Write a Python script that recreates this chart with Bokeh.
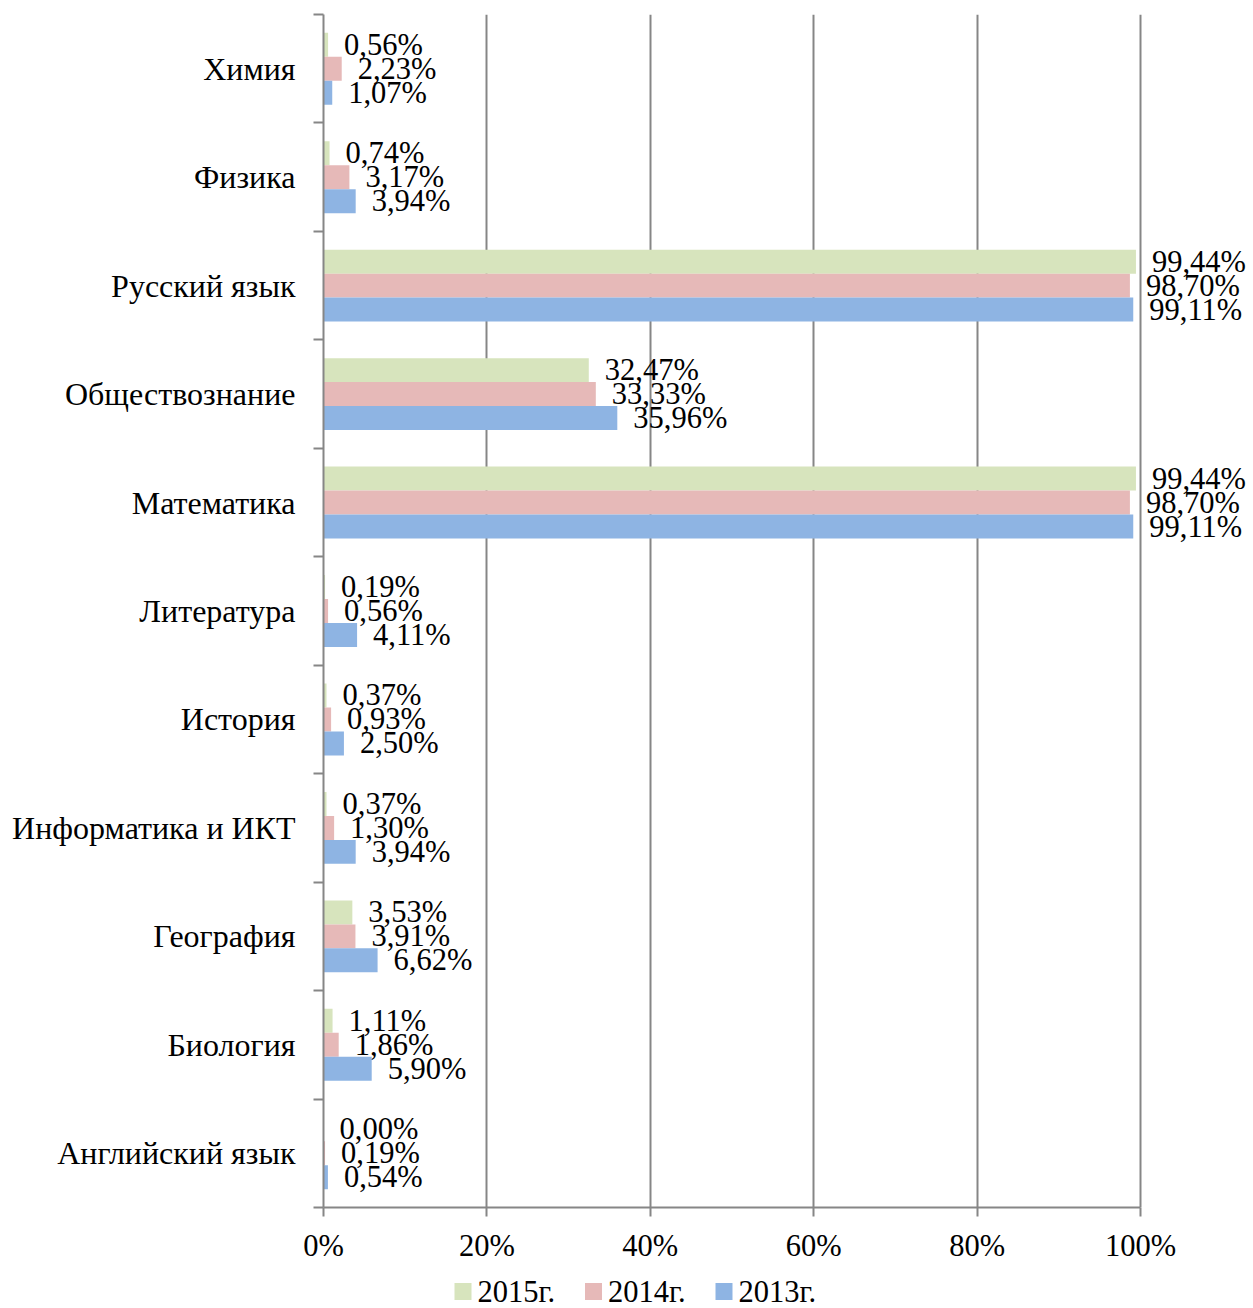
from bokeh.plotting import figure
from bokeh.layouts import column
from bokeh.models import FixedTicker, Range1d, ColumnDataSource
from bokeh.core.properties import value
from bokeh.embed import file_html
from bokeh.resources import INLINE

categories = ["Химия", "Физика", "Русский язык", "Обществознание", "Математика",
              "Литература", "История", "Информатика и ИКТ", "География", "Биология",
              "Английский язык"]
series_names = ["2015г.", "2014г.", "2013г."]
v2015 = [0.56, 0.74, 99.44, 32.47, 99.44, 0.19, 0.37, 0.37, 3.53, 1.11, 0.00]
v2014 = [2.23, 3.17, 98.70, 33.33, 98.70, 0.56, 0.93, 1.30, 3.91, 1.86, 0.19]
v2013 = [1.07, 3.94, 99.11, 35.96, 99.11, 4.11, 2.50, 3.94, 6.62, 5.90, 0.54]
x_ticks = [0, 20, 40, 60, 80, 100]
x_tick_labels = ["0%", "20%", "40%", "60%", "80%", "100%"]

colors = ["#D7E4BD", "#E6B9B8", "#8EB4E3"]
FONT = "Liberation Serif"
GRAY = "#868686"

n = len(categories)
centers = [n - i for i in range(n)]  # top category at n
bar_h = 0.221
offsets = [bar_h, 0.0, -bar_h]

W = 1250
LEFT = 323
p = figure(width=W, height=1267, output_backend="svg", toolbar_location=None,
           x_range=Range1d(0, 113.46), y_range=Range1d(0.5, n + 0.5),
           min_border_left=LEFT, min_border_top=14, min_border_right=0, min_border_bottom=60)
p.outline_line_color = None
p.background_fill_color = "white"
p.border_fill_color = "white"

for name, vals, col, off in zip(series_names, [v2015, v2014, v2013], colors, offsets):
    src = ColumnDataSource(dict(
        y=[c + off for c in centers],
        right=vals,
        lbl=[("%.2f%%" % v).replace(".", ",") for v in vals],
    ))
    p.hbar(y="y", left=0, right="right", height=bar_h, source=src,
           fill_color=col, line_color=None)
    p.text(x="right", y="y", text="lbl", source=src, x_offset=16,
           text_baseline="middle", text_align="left",
           text_font=value(FONT), text_font_size="30.5px", text_color="black")

# x axis
xa = p.xaxis[0]
xa.ticker = FixedTicker(ticks=x_ticks)
xa.major_label_overrides = {t: l for t, l in zip(x_ticks, x_tick_labels)}
xa.bounds = (0, 100)
xa.axis_line_color = GRAY
xa.axis_line_width = 2
xa.major_tick_line_color = GRAY
xa.major_tick_line_width = 2
xa.major_tick_out = 9
xa.major_tick_in = 0
xa.minor_tick_line_color = None
xa.major_label_text_font = FONT
xa.major_label_text_font_size = "30.5px"
xa.major_label_text_color = "black"
xa.major_label_standoff = 12

p.xgrid.ticker = FixedTicker(ticks=x_ticks[1:])
p.xgrid.grid_line_color = GRAY
p.xgrid.grid_line_width = 2
p.ygrid.grid_line_color = None

# y axis
ya = p.yaxis[0]
ya.ticker = FixedTicker(ticks=centers, minor_ticks=[c - 0.5 for c in centers] + [n + 0.5])
ya.major_label_overrides = {c: cat for c, cat in zip(centers, categories)}
ya.axis_line_color = GRAY
ya.axis_line_width = 2
ya.major_tick_line_color = None
ya.major_tick_out = 0
ya.major_tick_in = 0
ya.minor_tick_line_color = GRAY
ya.minor_tick_line_width = 2
ya.minor_tick_out = 10
ya.minor_tick_in = 0
ya.major_label_text_font = FONT
ya.major_label_text_font_size = "32px"
ya.major_label_text_color = "black"
ya.major_label_standoff = 18

# legend strip (separate figure; its frame is aligned with the main frame,
# so x is expressed in page pixels)
LH = 41
lg = figure(width=W, height=LH, output_backend="svg", toolbar_location=None,
            x_range=Range1d(LEFT, W), y_range=Range1d(0, LH),
            min_border_left=LEFT, min_border_right=0, min_border_top=0, min_border_bottom=0)
lg.axis.visible = False
lg.grid.visible = False
lg.outline_line_color = None
item_x = [462.5 + 130.5 * i for i in range(len(series_names))]
lsrc = ColumnDataSource(dict(x=item_x, y=[17] * len(series_names),
                             c=colors, t=series_names))
lg.rect(x="x", y="y", width=17, height=17, width_units="screen", height_units="screen",
        fill_color="c", line_color=None, source=lsrc)
lg.text(x="x", y="y", text="t", source=lsrc, x_offset=14.5, y_offset=0,
        text_baseline="middle", text_align="left",
        text_font=value(FONT), text_font_size="30.5px", text_color="black")

layout = column(p, lg, spacing=0)
open("out.html", "w").write(file_html(layout, INLINE))
